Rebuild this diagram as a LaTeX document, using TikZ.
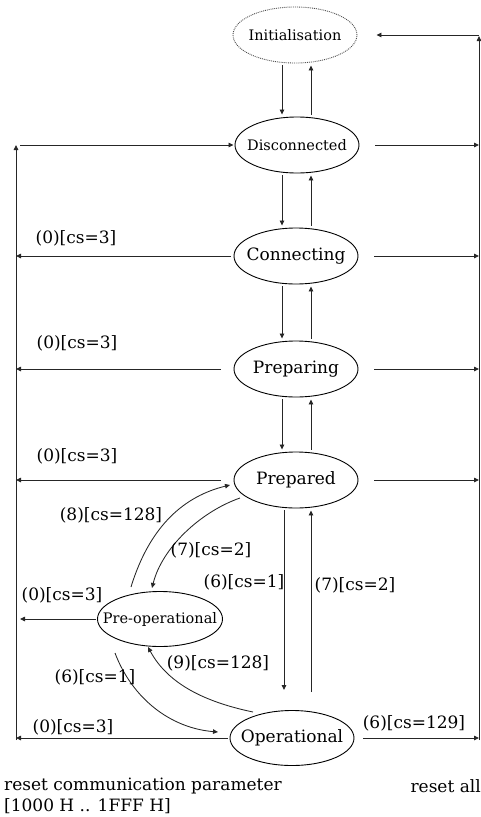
\documentclass[tikz,border=0pt]{standalone}
\usepackage{fontspec}
\setmainfont{DejaVu Serif}
\usetikzlibrary{shapes.geometric,arrows.meta}

\tikzset{
  state/.style={ellipse, draw=black, line width=0.9pt, minimum width=124pt,
    minimum height=56pt, inner sep=0pt, font=\fontsize{17}{20}\selectfont},
  smallstate/.style={state, font=\fontsize{14.5}{17}\selectfont},
  conn/.style={draw=black!85, line width=0.85pt, -{Triangle[length=5pt,width=4.5pt]}},
  lbl/.style={inner sep=0pt, font=\fontsize{17}{20}\selectfont},
}
% fixed-size state labels: the ellipse keeps its minimum size
\newcommand{\stxt}[1]{\makebox[0pt]{#1}}

\begin{document}
\begin{tikzpicture}[x=1pt, y=-1pt]
\useasboundingbox (0,0) rectangle (481,817);

% states
\node[smallstate, densely dotted, draw=black!70] (init) at (295,35) {\stxt{Initialisation}};
\node[smallstate] (disc) at (297,145) {\stxt{Disconnected}};
\node[state] (cong) at (296,256) {\stxt{Connecting}};
\node[state] (prepg) at (296,369) {\stxt{Preparing}};
\node[state] (prepd) at (296,480) {\stxt{Prepared}};
\node[smallstate, minimum width=125pt, minimum height=55pt] (preop) at (160,619) {\stxt{Pre-operational}};
\node[state, minimum height=55pt] (oper) at (292,738) {\stxt{Operational}};

% bus lines on both sides
\coordinate (ltop) at (16,145);
\coordinate (lbot) at (16,740);
\coordinate (rtop) at (479,36);
\coordinate (rbot) at (479,740);
\draw[conn] (lbot) -- (ltop);
\draw[conn] (rbot) -- (rtop);

% vertical transitions in the main chain
\coordinate (xd) at (282,0);
\coordinate (xu) at (311,0);
\foreach \a/\b in {init/disc, disc/cong, cong/prepg, prepg/prepd}{
  \draw[conn, shorten <=2pt, shorten >=2pt] (\a.south -| xd) -- (\b.north -| xd);
  \draw[conn, shorten <=2pt, shorten >=2pt] (\b.north -| xu) -- (\a.south -| xu);
}
\draw[conn, shorten <=2pt] (prepd.south -| 284,0) -- (284,690);
\draw[conn, shorten >=2pt] (311,692) -- (prepd.south -| xu);
\node[lbl] (l6a) at (244,582) {(6)[cs=1]};
\node[lbl] (l7a) at (355,585) {(7)[cs=2]};

% transitions to the right-hand line
\draw[conn] (rtop |- init.east) -- ([xshift=19pt]init.east);
\foreach \s in {disc, cong, prepg, prepd}{
  \draw[conn] ([xshift=16pt]\s.east) -- (rtop |- \s.east);
}
\draw[conn] ([xshift=9pt]oper.east) -- (rbot |- oper.east);
\node[lbl] (l6r) at (414,723) {(6)[cs=129]};

% transitions to the left-hand line
\draw[conn] ([xshift=4pt]ltop) -- ([xshift=-1pt]ltop -| disc.west);
\draw[conn] ([xshift=-3pt]cong.west) -- (ltop |- cong.west);
\draw[conn] ([xshift=-13pt]prepg.west) -- (ltop |- prepg.west);
\draw[conn] ([xshift=-13pt]prepd.west) -- (ltop |- prepd.west);
\draw[conn] ([xshift=-1pt]preop.west) -- ([xshift=4pt]ltop |- preop.west);
\draw[conn] ([xshift=-2pt]oper.west) -- (lbot |- oper.west);
\node[lbl] (l0a) at (76,238) {(0)[cs=3]};
\node[lbl] (l0b) at (77,343) {(0)[cs=3]};
\node[lbl] (l0c) at (77,456) {(0)[cs=3]};
\node[lbl] (l0d) at (62,595) {(0)[cs=3]};
\node[lbl] (l0e) at (73,727) {(0)[cs=3]};

% transitions around Pre-operational
\draw[conn] ([shift={(-29,-32)}]preop.center) .. controls (150,525) and (185,496) .. ([shift={(-66,5)}]prepd.center);
\draw[conn] ([shift={(-56,18)}]prepd.center) .. controls (200,512) and (162,548) .. ([shift={(-8,-31)}]preop.center);
\draw[conn] ([shift={(-39,-26)}]oper.center) .. controls (205,702) and (168,684) .. ([shift={(-12,28)}]preop.center);
\draw[conn] ([shift={(-45,34)}]preop.center) .. controls (132,698) and (170,728) .. ([shift={(-74,-6)}]oper.center);
\node[lbl] (l8) at (111,515) {(8)[cs=128]};
\node[lbl] (l7b) at (211,550) {(7)[cs=2]};
\node[lbl] (l9) at (218,663) {(9)[cs=128]};
\node[lbl] (l6b) at (95,677) {(6)[cs=1]};

% captions
\node[lbl, anchor=west] (cap1) at (4,786) {reset communication parameter};
\node[lbl, anchor=west] (cap2) at (4,806) {[1000 H .. 1FFF H]};
\node[lbl, anchor=east] (cap3) at (481,786) {reset all};
\end{tikzpicture}
\end{document}
